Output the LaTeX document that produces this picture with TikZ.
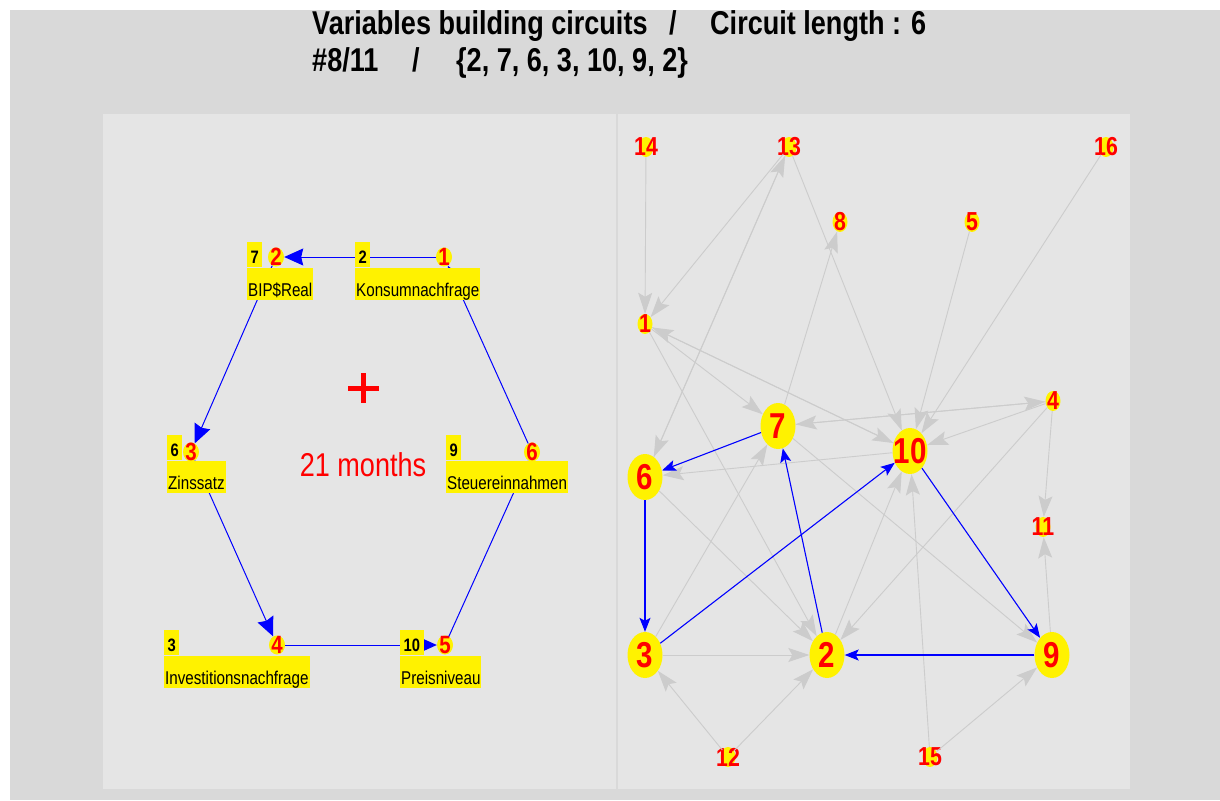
\documentclass[tikz,border=0pt]{standalone}
\usepackage{fontspec}
\setmainfont{Liberation Sans}[FakeStretch=0.82]
\usetikzlibrary{positioning,shapes.geometric,arrows.meta}
\definecolor{outergray}{RGB}{217,217,217}
\definecolor{panelgray}{RGB}{229,229,229}
\definecolor{edgegray}{RGB}{204,204,204}
\newcommand{\fs}[1]{\fontsize{#1}{#1}\selectfont}

\begin{document}
\begin{tikzpicture}[
      x=1pt, y=-1pt,
      title/.style={anchor=base west, inner sep=0pt, font=\fs{33}\bfseries},
      dot/.style={ellipse, fill=yellow, minimum width=16pt, minimum height=19pt, inner sep=0pt},
      cnum/.style={text=red, inner sep=0pt, font=\fs{25}\bfseries},
      numbox/.style={anchor=north west, fill=yellow, inner xsep=3.5pt, inner ysep=0pt, text height=21pt, text depth=4pt, font=\fs{18}\bfseries},
      namebox/.style={anchor=north west, fill=yellow, inner xsep=1pt, inner ysep=1pt, text height=28pt, text depth=2pt, font=\fs{18.5}},
      smallnode/.style={ellipse, fill=yellow, minimum width=15pt, minimum height=20pt, inner sep=0pt},
      bignode/.style={ellipse, fill=yellow, minimum width=35pt, minimum height=46pt, inner sep=0pt},
      snum/.style={text=red, inner sep=0pt, font=\fs{26}\bfseries},
      bnum/.style={text=red, inner sep=0pt, font=\fs{36}\bfseries},
      cedge/.style={draw=blue, line width=1pt, -{Stealth[length=19pt, width=17pt, inset=2pt]}},
      gedge/.style={draw=edgegray, line width=0.9pt, -{Stealth[length=21pt, width=14pt, inset=4pt]}},
      bedge/.style={draw=blue, line width=1.1pt, -{Stealth[length=14pt, width=11pt, inset=3pt]}}
    ]

    % Background and panels
    \useasboundingbox (0,0) rectangle (1220,800);
    \fill[white] (0,0) rectangle (1220,800);
    \fill[outergray] (10,10) rectangle (1220,800);
    \fill[panelgray] (103,114) rectangle (616,789);
    \fill[panelgray] (618,114) rectangle (1130,789);

    % Title
    \node[title] (t1) at (312,35) {Variables building circuits};
    \node[title] (t2) at (669,35) {/};
    \node[title] (t3) at (710,35) {Circuit length : 6};
    \node[title] (t4) at (312,71) {\#8/11};
    \node[title] (t5) at (412,71) {/};
    \node[title] (t6) at (456,71) {\{2, 7, 6, 3, 10, 9, 2\}};

    % Circuit nodes (left panel)
    \node[dot, label={[cnum]center:1}] (c1) at (444,257) {};
    \node[dot, label={[cnum]center:2}] (c2) at (276,257) {};
    \node[dot, label={[cnum]center:3}] (c3) at (191,452) {};
    \node[dot, label={[cnum]center:4}] (c4) at (277,645) {};
    \node[dot, label={[cnum]center:5}] (c5) at (445,645) {};
    \node[dot, label={[cnum]center:6}] (c6) at (532,452) {};

    % Circuit arrows
    \draw[cedge] (c1) -- (c2);
    \draw[cedge] (c2) -- (c3);
    \draw[cedge] (c3) -- (c4);
    \draw[cedge] (c4) -- (c5);
    \draw[cedge] (c5) -- (c6);
    \draw[cedge] (c6) -- (c1);

    % Variable labels
    \node[numbox] (k1) at (355,242) {2};
    \node[namebox] (n1) at (k1.south west) {Konsumnachfrage};
    \node[numbox] (k2) at (247,242) {7};
    \node[namebox] (n2) at (k2.south west) {BIP\$Real};
    \node[numbox] (k3) at (167,435) {6};
    \node[namebox] (n3) at (k3.south west) {Zinssatz};
    \node[numbox] (k6) at (446,435) {9};
    \node[namebox] (n6) at (k6.south west) {Steuereinnahmen};
    \node[numbox] (k4) at (164,630) {3};
    \node[namebox] (n4) at (k4.south west) {Investitionsnachfrage};
    \node[numbox] (k5) at (400,630) {10};
    \node[namebox] (n5) at (k5.south west) {Preisniveau};

    % Sign and period
    \draw[red, line width=5pt] (348,388) -- (379,388) (363,373) -- (363,403);
    \node[text=red, inner sep=0pt, font=\fs{33}] (period) at (363,465) {21 months};

    % Graph nodes (right panel)
    \node[smallnode, label={[snum]center:1}] (v1) at (645,324) {};
    \node[bignode, label={[bnum]center:2}] (v2) at (827,655) {};
    \node[bignode, label={[bnum]center:3}] (v3) at (645,655) {};
    \node[smallnode, label={[snum]center:4}] (v4) at (1053,401) {};
    \node[smallnode, label={[snum]center:5}] (v5) at (972,222) {};
    \node[bignode, label={[bnum]center:6}] (v6) at (645,477) {};
    \node[bignode, label={[bnum]center:7}] (v7) at (778,426) {};
    \node[smallnode, label={[snum]center:8}] (v8) at (840,222) {};
    \node[bignode, label={[bnum]center:9}] (v9) at (1052,655) {};
    \node[bignode, label={[bnum]center:10}] (v10) at (910,451) {};
    \node[smallnode, label={[snum]center:11}] (v11) at (1043,527) {};
    \node[smallnode, label={[snum]center:12}] (v12) at (728,757) {};
    \node[smallnode, label={[snum]center:13}] (v13) at (789,147) {};
    \node[smallnode, label={[snum]center:14}] (v14) at (646,147) {};
    \node[smallnode, label={[snum]center:15}] (v15) at (930,757) {};
    \node[smallnode, label={[snum]center:16}] (v16) at (1106,147) {};

    % Other links
    \draw[gedge] (v14) -- (v1);
    \draw[gedge] (v13) -- (v1);
    \draw[gedge] (v6) -- (v13);
    \draw[gedge] (v13) -- (v6);
    \draw[gedge] (v13) -- (v10);
    \draw[gedge] (v1) -- (v7);
    \draw[gedge] (v1) -- (v2);
    \draw[gedge] (v1) -- (v10);
    \draw[gedge] (v10) -- (v1);
    \draw[gedge] (v7) -- (v8);
    \draw[gedge] (v7) -- (v4);
    \draw[gedge] (v4) -- (v7);
    \draw[gedge] (v4) -- (v10);
    \draw[gedge] (v5) -- (v10);
    \draw[gedge] (v16) -- (v10);
    \draw[gedge] (v4) -- (v2);
    \draw[gedge] (v4) -- (v11);
    \draw[gedge] (v9) -- (v11);
    \draw[gedge] (v10) -- (v6);
    \draw[gedge] (v6) -- (v2);
    \draw[gedge] (v3) -- (v7);
    \draw[gedge] (v3) -- (v2);
    \draw[gedge] (v2) -- (v10);
    \draw[gedge] (v7) -- (v9);
    \draw[gedge] (v15) -- (v10);
    \draw[gedge] (v15) -- (v9);
    \draw[gedge] (v12) -- (v3);
    \draw[gedge] (v12) -- (v2);

    % Circuit links
    \draw[bedge] (v2) -- (v7);
    \draw[bedge] (v7) -- (v6);
    \draw[bedge] (v6) -- (v3);
    \draw[bedge] (v3) -- (v10);
    \draw[bedge] (v10) -- (v9);
    \draw[bedge] (v9) -- (v2);

  \end{tikzpicture}
\end{document}
